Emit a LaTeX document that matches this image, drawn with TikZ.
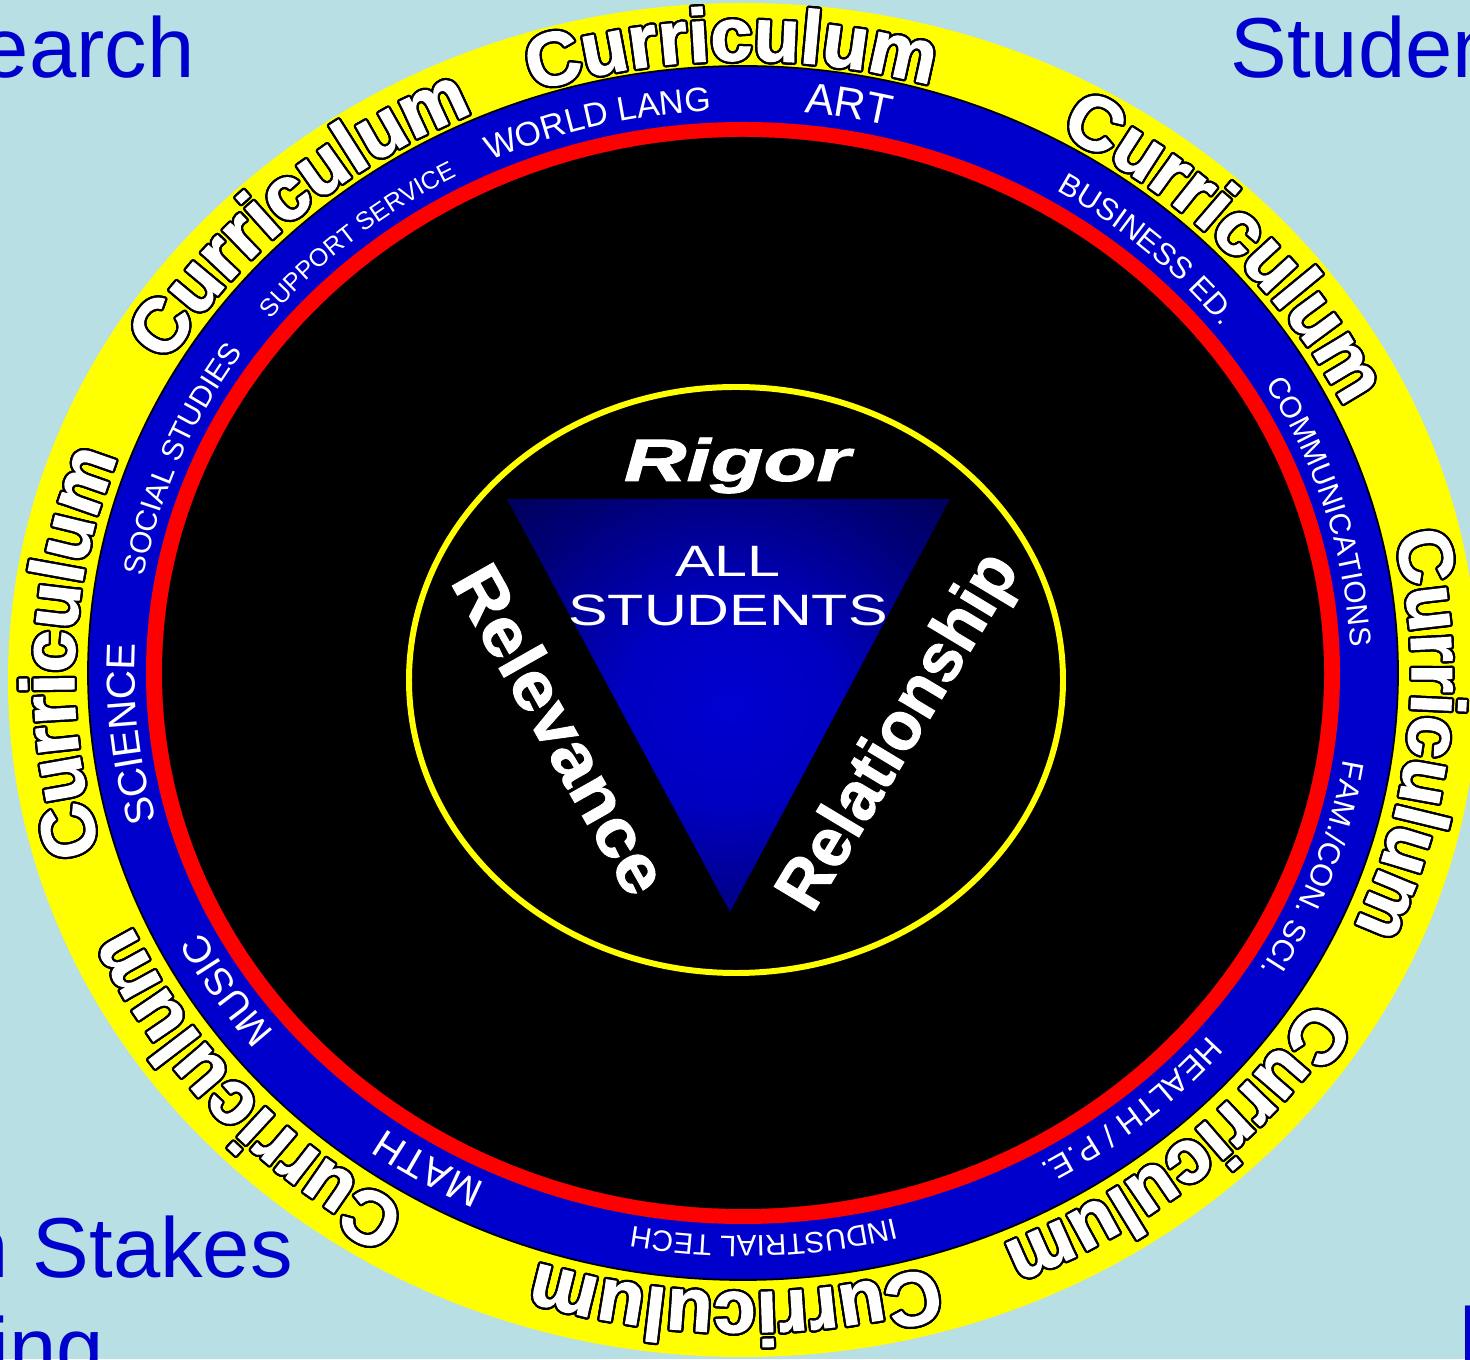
\documentclass[tikz,border=0pt]{standalone}
\usepackage{fontspec}
\setmainfont{Liberation Sans}
\newfontfamily\heavyfont{Liberation Sans Bold}[FakeBold=1.4]
\newfontfamily\heavyital{Liberation Sans Bold Italic}[FakeBold=1.4]
\usepackage{graphicx}
\usepackage{contour}
\usetikzlibrary{decorations.text}
\contourlength{1.3pt}
\contournumber{24}

\definecolor{bgblue}{RGB}{184,223,227}
\definecolor{ringblue}{RGB}{0,0,204}
\definecolor{ringyellow}{RGB}{255,255,0}
\definecolor{ringred}{RGB}{255,0,0}
\pgfdeclareradialshading{triglow}{\pgfpoint{0bp}{0bp}}{rgb(0bp)=(0,0,0.82); rgb(12bp)=(0,0,0.76); rgb(28bp)=(0,0,0.46); rgb(40bp)=(0,0,0.3); rgb(50bp)=(0,0,0.27)}

\newcommand\curfont{\fontsize{43}{43}\selectfont\heavyfont}
\newcommand\curchar[1]{\contour{black}{#1}}

\tikzset{
  cornertext/.style={text=ringblue, font=\fontsize{48.4}{57}\selectfont, inner sep=0pt},
  bigword/.style={text=white, font=\fontsize{39}{39}\selectfont\heavyfont, inner sep=0pt, anchor=base},
  labarc/.style={x radius=608, y radius=563},
  subject/.style 2 args={decorate, decoration={text along path, text align=center,
      text={|\fontsize{#1}{#1}\selectfont\color{white}|#2}}},
  curword/.style={decorate, decoration={text effects along path, text={Curriculum}, text align=center,
      text effects/.cd, text along path, character command=\curchar,
      characters={font=\curfont, text=white, inner sep=0pt}}}
}

\begin{document}
\begin{tikzpicture}[x=0.02cm, y=0.02cm]
\useasboundingbox (0,0) rectangle (1470,1359);
\clip (0,0) rectangle (1470,1359);
\fill[bgblue] (0,0) rectangle (1470,1359);

% words in the corners
  \node (research) [cornertext, anchor=base east] at (195,1281) {Research};
  \node (student) [cornertext, anchor=base west] at (1230,1281) {Student};
  \node (stakes) [cornertext, anchor=base west] at (-166,82) {High Stakes};
  \node (testing) [cornertext, anchor=base west] at (-166,-18) {Testing};
  \node (fword) [cornertext, anchor=base west] at (1458,-5) {F};

% rings
  \coordinate (C) at (743,686); \coordinate (cur) at (743,682.5);
  \fill[ringyellow] (743,679) ellipse [x radius=735, y radius=677];
  \filldraw[fill=ringblue, draw=black, line width=1pt] (C) ellipse [x radius=655, y radius=607];
  \fill[ringred] (C) ellipse [x radius=597, y radius=551];
  \fill[black] (C) ellipse [x radius=581, y radius=536];
  \draw[ringyellow, line width=3.4pt] (736,679) ellipse [x radius=327, y radius=293];
  \shade[shading=triglow] (507,860) -- (950,860) -- (730,447) -- cycle;

% middle
  \node (rigor) [text=white, font=\fontsize{34}{34}\selectfont\heavyital, inner sep=0pt, anchor=base] at (737,878) {\scalebox{1.45}[1]{Rigor}};
  \node (all) [text=white, font=\fontsize{25}{25}\selectfont, inner sep=0pt, anchor=base] at (728,782) {\scalebox{1.35}[1]{ALL}};
  \node (students) [text=white, font=\fontsize{25}{25}\selectfont, inner sep=0pt, anchor=base] at (728,733) {\scalebox{1.35}[1]{STUDENTS}};
  \node (relevance) [bigword, rotate=-60.5] at (540,618) {\scalebox{1.08}[1]{Relevance}};
  \node (relationship) [bigword, rotate=59] at (916,617) {\scalebox{0.98}[1]{Relationship}};

% subjects in the blue ring
  \path[subject={24.5}{ART}] (C) ++(110:608 and 563) arc[labarc, start angle=110, end angle=50];
  \path[subject={19.3}{WORLD LANG}] (C) ++(134:608 and 563) arc[labarc, start angle=134, end angle=74];
  \path[subject={14.2}{SUPPORT SERVICE}] (C) ++(160:608 and 563) arc[labarc, start angle=160, end angle=100];
  \path[subject={17}{SOCIAL STUDIES}] (C) ++(188:608 and 563) arc[labarc, start angle=188, end angle=128];
  \path[subject={23}{SCIENCE}] (C) ++(216:608 and 563) arc[labarc, start angle=216, end angle=156];
  \path[subject={22}{MUSIC}] (C) ++(243:608 and 563) arc[labarc, start angle=243, end angle=183];
  \path[subject={23}{MATH}] (C) ++(269:608 and 563) arc[labarc, start angle=269, end angle=209];
  \path[subject={16.8}{INDUSTRIAL TECH}] (C) ++(302:608 and 563) arc[labarc, start angle=302, end angle=242];
  \path[subject={18.2}{HEALTH / P.E.}] (C) ++(-20:608 and 563) arc[labarc, start angle=-20, end angle=-80];
  \path[subject={17.5}{FAM./CON. SCI.}] (C) ++(10:608 and 563) arc[labarc, start angle=10, end angle=-50];
  \path[subject={17}{COMMUNICATIONS}] (C) ++(46.5:608 and 563) arc[labarc, start angle=46.5, end angle=-13.5];
  \path[subject={17.5}{BUSINESS ED.}] (C) ++(78:608 and 563) arc[labarc, start angle=78, end angle=18];

% Curriculum all round
  \foreach \ang in {91,43.5,-5.3,-49,-90.7,-138.5,177.8,132}{
    \pgfmathsetmacro\sa{\ang+30} \pgfmathsetmacro\ea{\ang-30}
    \path[curword] (cur) ++(\sa:669 and 616) arc[start angle=\sa, end angle=\ea, x radius=669, y radius=616];
  }

\end{tikzpicture}
\end{document}
